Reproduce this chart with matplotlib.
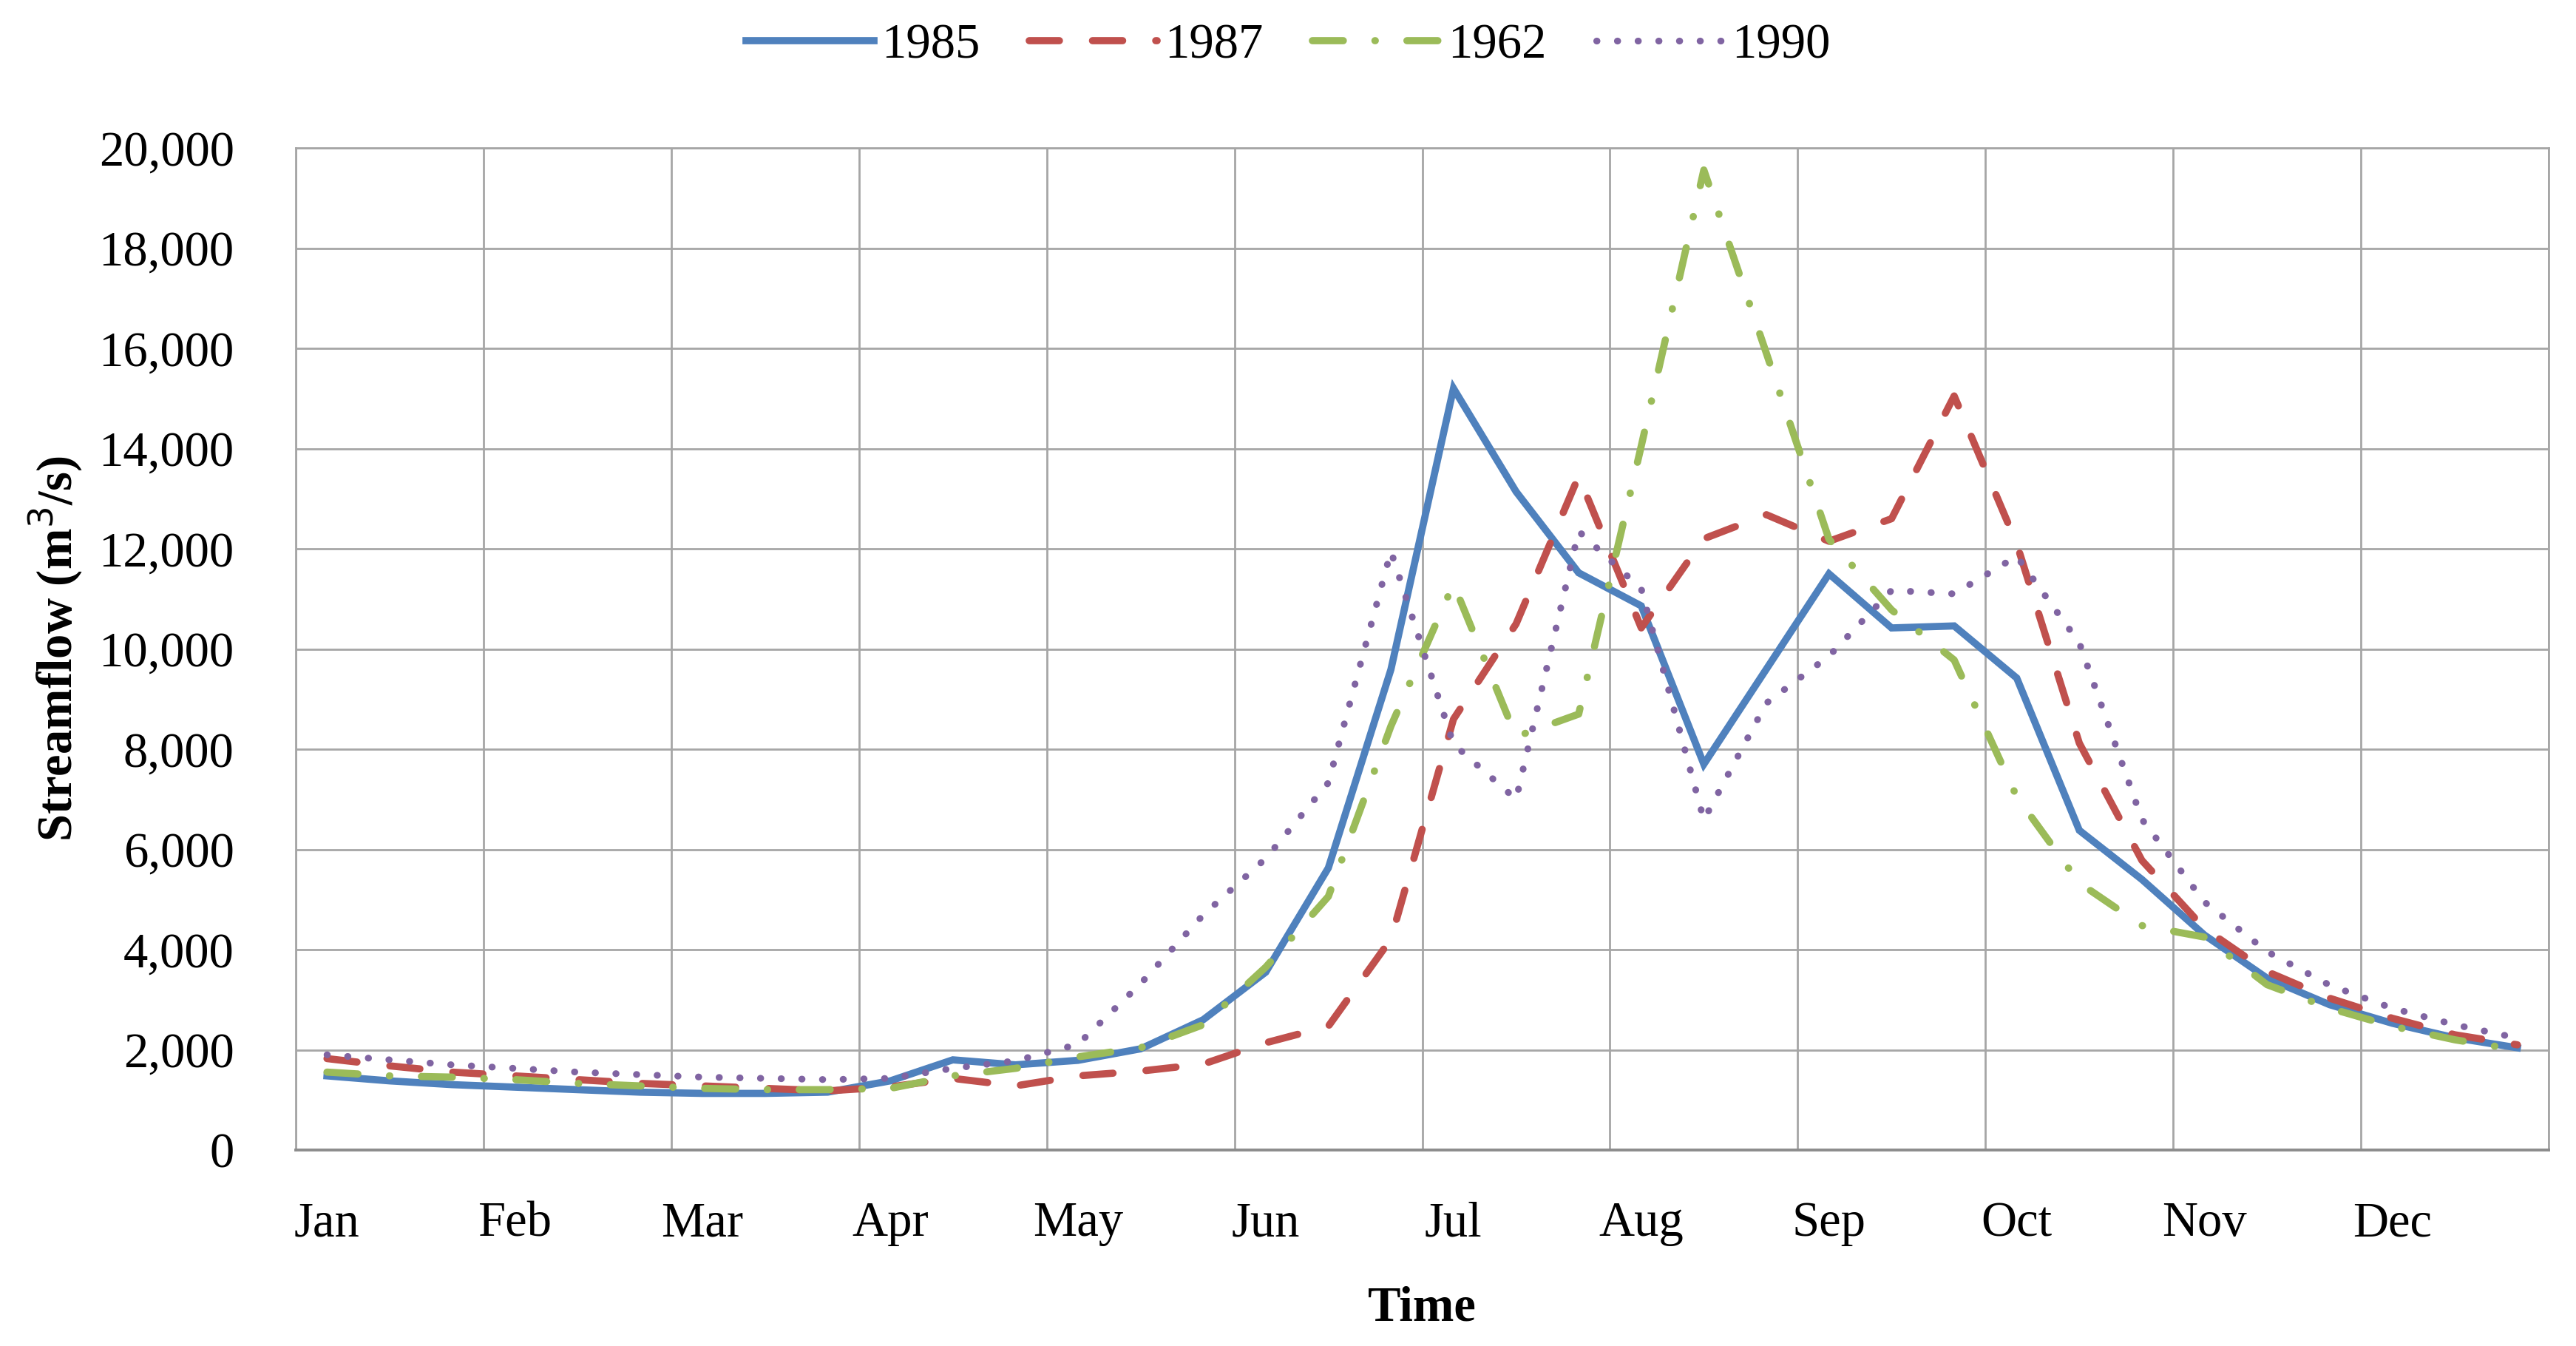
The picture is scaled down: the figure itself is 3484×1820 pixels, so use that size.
import numpy as np
import matplotlib.pyplot as plt
from matplotlib.ticker import FixedLocator, FuncFormatter

# three values per month (dekads), Jan..Dec
months = ['Jan', 'Feb', 'Mar', 'Apr', 'May', 'Jun',
          'Jul', 'Aug', 'Sep', 'Oct', 'Nov', 'Dec']

flow_1985 = [1480, 1380, 1305, 1255, 1205, 1155, 1130, 1130, 1155,
             1380, 1800, 1700, 1790, 2020, 2600, 3550, 5630, 9590,
             15200, 13140, 11520, 10860, 7700, 9600, 11500, 10420, 10460,
             9420, 6380, 5400, 4290, 3430, 2900, 2530, 2240, 2040]
flow_1987 = [1825, 1680, 1555, 1480, 1405, 1330, 1280, 1230, 1180,
             1260, 1430, 1280, 1480, 1575, 1715, 2140, 2470, 4210,
             8600, 10500, 13450, 10420, 12200, 12680, 12150, 12600, 15050,
             12100, 8120, 5780, 4420, 3560, 3030, 2630, 2300, 2100]
flow_1962 = [1555, 1480, 1455, 1405, 1330, 1280, 1230, 1205, 1205,
             1230, 1480, 1630, 1860, 2040, 2500, 3650, 5060, 8460,
             11300, 8250, 8700, 14050, 19560, 15900, 12190, 10780, 9780,
             7050, 5330, 4480, 4250, 3300, 2830, 2470, 2200, 2000]
flow_1990 = [1900, 1800, 1700, 1630, 1555, 1505, 1455, 1430, 1405,
             1430, 1630, 1780, 2110, 3320, 4690, 5820, 7330, 11950,
             8100, 7000, 12350, 11200, 6590, 8920, 9860, 11170, 11100,
             11850, 10120, 6600, 4950, 3960, 3290, 2830, 2500, 2235]

series = [('1985', flow_1985), ('1987', flow_1987),
          ('1962', flow_1962), ('1990', flow_1990)]

plt.rcParams['font.family'] = ['Liberation Serif', 'DejaVu Serif']

fig = plt.figure(figsize=(17.42, 9.10), dpi=200)
ax = fig.add_axes([0.1148, 0.1456, 0.8746, 0.7445])

x = np.arange(len(flow_1985))
lw = 3.5
ax.plot(x, series[0][1], color='#4F81BD', lw=lw, label=series[0][0],
        solid_joinstyle='miter', zorder=3)
ax.plot(x, series[1][1], color='#C0504D', lw=lw, label=series[1][0],
        dashes=(4.2, 4.6), dash_capstyle='round', zorder=4)
ax.plot(x, series[2][1], color='#9BBB59', lw=lw, label=series[2][0],
        dashes=(4.3, 4.4, 0.05, 4.4), dash_capstyle='round', zorder=5)
ax.plot(x, series[3][1], color='#8064A2', lw=3.3, label=series[3][0],
        dashes=(0.05, 3.0), dash_capstyle='round', zorder=6)

ax.set_xlim(-0.5, len(x) - 0.5)
ax.set_ylim(0, 20000)
ax.set_yticks(np.arange(0, 20001, 2000))
ax.yaxis.set_major_formatter(FuncFormatter(lambda v, p: '{:,.0f}'.format(v)))
ax.set_xticks(np.arange(0, len(x), 3))
ax.set_xticklabels(months)
ax.xaxis.set_minor_locator(FixedLocator(np.arange(-0.5, len(x), 3)))

grid_c = '#a6a6a6'
ax.grid(True, which='minor', axis='x', color=grid_c, lw=1.0)
ax.grid(True, which='major', axis='y', color=grid_c, lw=1.0)
ax.set_axisbelow(True)
for s in ax.spines.values():
    s.set_color(grid_c)
    s.set_linewidth(1.0)
ax.spines['bottom'].set_color('#8c8c8c')
ax.spines['bottom'].set_linewidth(1.4)

ax.tick_params(axis='both', which='both', length=0, labelsize=24,
               colors='black')
ax.tick_params(axis='y', pad=30)
ax.tick_params(axis='x', pad=25)

ax.set_xlabel('Time', fontsize=24, fontweight='bold', labelpad=19)
ax.set_ylabel('Streamflow (m$^3$/s)', fontsize=24, fontweight='bold',
              labelpad=7)

fig.legend(loc='center', bbox_to_anchor=(0.5, 0.966), ncol=4,
           frameon=False, fontsize=24, handlelength=2.6,
           handletextpad=0.15, columnspacing=1.0)

fig.savefig('out.png', dpi=200)
